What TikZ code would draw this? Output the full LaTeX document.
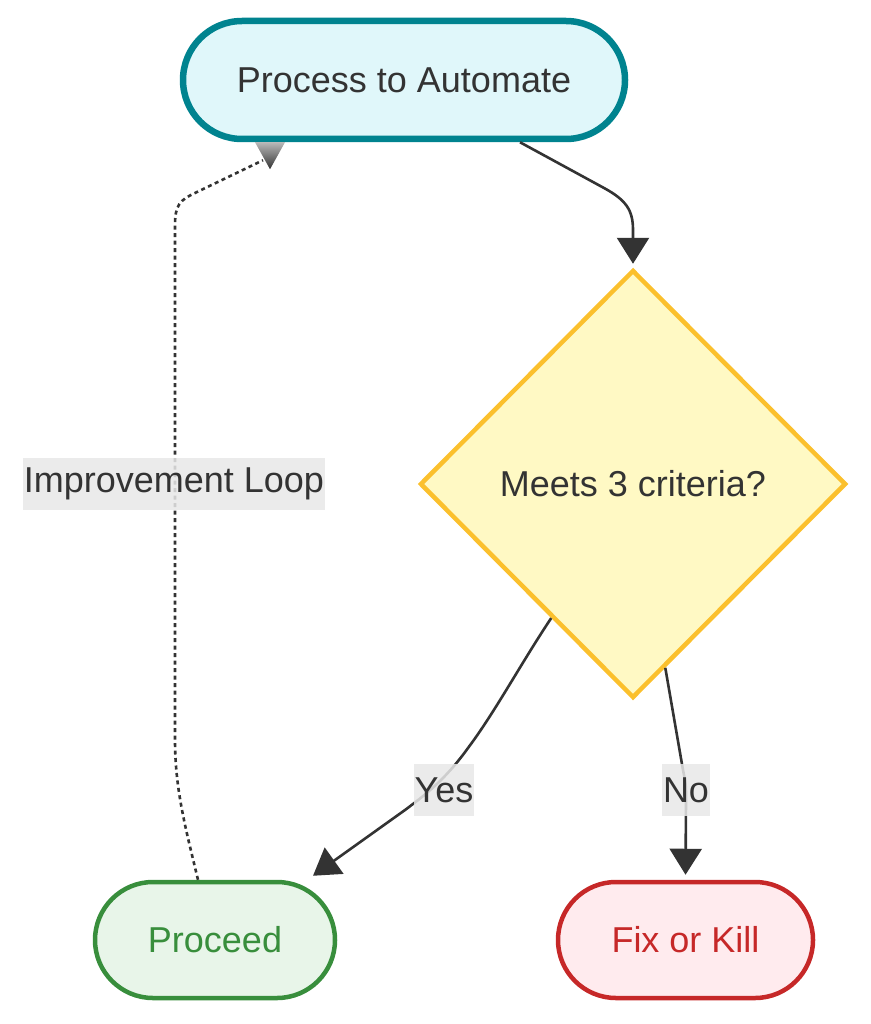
\documentclass[tikz,border=0pt]{standalone}
\usepackage{fontspec}
\setmainfont{Liberation Sans}
\usetikzlibrary{shapes.geometric,arrows.meta,calc}
\definecolor{ink}{HTML}{333333}
\definecolor{tealB}{HTML}{00838F}
\definecolor{tealF}{HTML}{E0F7FA}
\definecolor{yelB}{HTML}{FBC02D}
\definecolor{yelF}{HTML}{FFF9C4}
\definecolor{grnB}{HTML}{388E3C}
\definecolor{grnF}{HTML}{E8F5E9}
\definecolor{redB}{HTML}{C62828}
\definecolor{redF}{HTML}{FFEBEE}
\definecolor{lblF}{HTML}{E8E8E8}
\begin{document}
\begin{tikzpicture}[x=1pt,y=-1pt,
  txt/.style={font=\fontsize{36pt}{43pt}\selectfont},
  pill/.style={txt, rectangle, draw, line width=#1, inner sep=0pt},
  arr/.style={draw=ink, line width=2.6pt, -{Triangle[length=26pt,width=32pt]}},
  loopline/.style={draw=ink, line width=2.6pt, dash pattern=on 4pt off 3.5pt},
  lbl/.style={txt, text=ink, fill=lblF, fill opacity=0.85, text opacity=1, inner xsep=1pt, inner ysep=0pt, minimum height=52pt}
]
\useasboundingbox (0,0) rectangle (870,1024);

\node[pill=6.5pt, draw=tealB, fill=tealF, text=ink, minimum width=442pt, minimum height=118pt, rounded corners=59pt] (top) at (404,80) {Process to Automate};
\node[txt, shape=diamond, aspect=1, draw=yelB, fill=yelF, text=ink, line width=4.5pt, inner sep=0pt, minimum width=426pt, minimum height=428pt] (dia) at (633,484) {Meets 3 criteria?};
\node[pill=4.5pt, draw=grnB, fill=grnF, text=grnB, minimum width=240pt, minimum height=116pt, rounded corners=58pt] (pro) at (215,940) {Proceed};
\node[pill=4.5pt, draw=redB, fill=redF, text=redB, minimum width=255pt, minimum height=116pt, rounded corners=58pt] (fix) at (685.5,940) {Fix or Kill};

% Process -> decision
\draw[arr, shorten >=4pt] ([xshift=116pt]top.south) -- (604,188) .. controls (626,200) and (633,210) .. (633,230) -- (dia.north);

% Yes
\draw[arr] ($(dia.south)!0.38!(dia.west)$) .. controls (520,665) and (495,712) .. (468,748) .. controls (445,780) and (425,795) .. (405,810) -- ([xshift=98pt,yshift=4pt]pro.north);

% No
\draw[arr, shorten >=5pt] ($(dia.south)!0.15!(dia.east)$) -- (683,770) .. controls (686,785) .. (686,800) -- (fix.north);

% Improvement loop
\coordinate (loopend) at ([xshift=-141pt,yshift=-18pt]top.south);
\draw[loopline] ([xshift=-17pt]pro.north) .. controls (186,830) and (175,790) .. (175,740) -- (175,225) .. controls (175,205) and (180,200) .. (195,193) -- (loopend);
\shade[top color=gray!55, bottom color=ink] ([xshift=-149pt]top.south) -- ++(30,0) -- ++(-15,27) -- cycle;

% labels
\node[lbl] (l1) at (174,484) {Improvement Loop};
\node[lbl] (l2) at (444,790) {Yes};
\node[lbl] (l3) at (686,790) {No};
\end{tikzpicture}
\end{document}
